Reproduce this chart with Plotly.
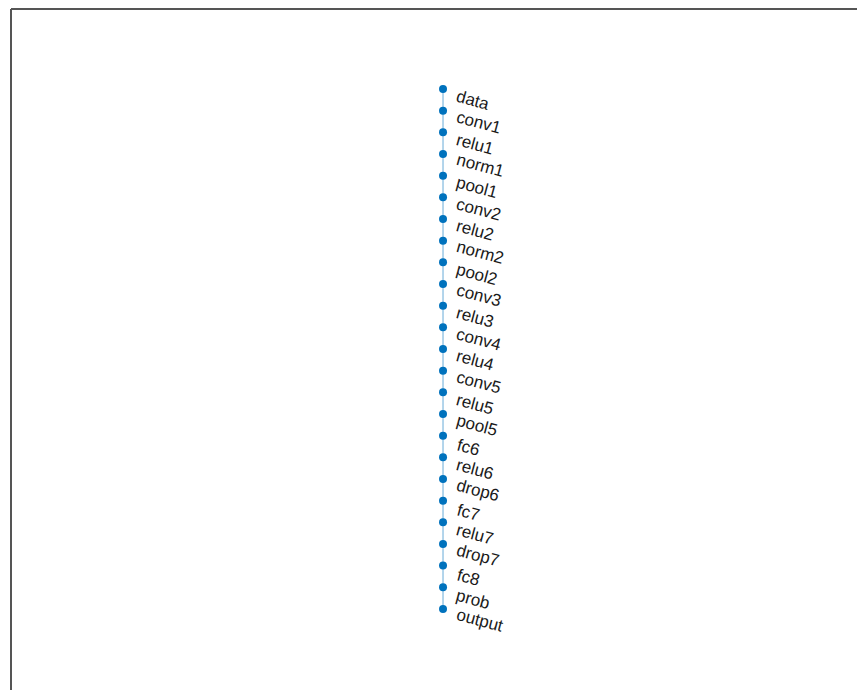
import plotly.graph_objects as go

# layer graph of the network, top to bottom
LAYERS = ["data", "conv1", "relu1", "norm1", "pool1", "conv2", "relu2", "norm2",
          "pool2", "conv3", "relu3", "conv4", "relu4", "conv5", "relu5", "pool5",
          "fc6", "relu6", "drop6", "fc7", "relu7", "drop7", "fc8", "prob", "output"]
NODE_X = [1] * len(LAYERS)
NODE_Y = list(range(len(LAYERS)))

BLUE = "#0072BD"

fig = go.Figure()

# edges
fig.add_scatter(
    x=NODE_X, y=NODE_Y, mode="lines",
    line=dict(color="rgba(0,114,189,0.4)", width=1.5),
    hoverinfo="skip", showlegend=False,
)
# nodes
fig.add_scatter(
    x=NODE_X, y=NODE_Y, mode="markers",
    marker=dict(color=BLUE, size=8),
    text=LAYERS, hoverinfo="text", showlegend=False,
)

# node labels, slanted like the original
for name, x, y in zip(LAYERS, NODE_X, NODE_Y):
    fig.add_annotation(
        x=x, y=y, text=name, showarrow=False,
        textangle=15,
        xanchor="left", yanchor="middle",
        xshift=9, yshift=-12,
        font=dict(family="Liberation Sans, Arial", size=17, color="#1a1a1a"),
    )

# axes box (only left and top edges are visible in the crop)
fig.add_shape(type="line", xref="paper", yref="paper", x0=0, x1=0, y0=0, y1=0.9985,
              line=dict(color="#555555", width=2))
fig.add_shape(type="line", xref="paper", yref="paper", x0=0, x1=1, y0=0.9985, y1=0.9985,
              line=dict(color="#555555", width=2))

fig.update_layout(
    width=865, height=690,
    margin=dict(l=3, r=0, t=0, b=0),
    paper_bgcolor="white", plot_bgcolor="white",
    xaxis=dict(visible=False, range=[0, 1.9953]),
    yaxis=dict(visible=False, range=[28.11, -3.738]),
)

fig.write_html("out.html")
